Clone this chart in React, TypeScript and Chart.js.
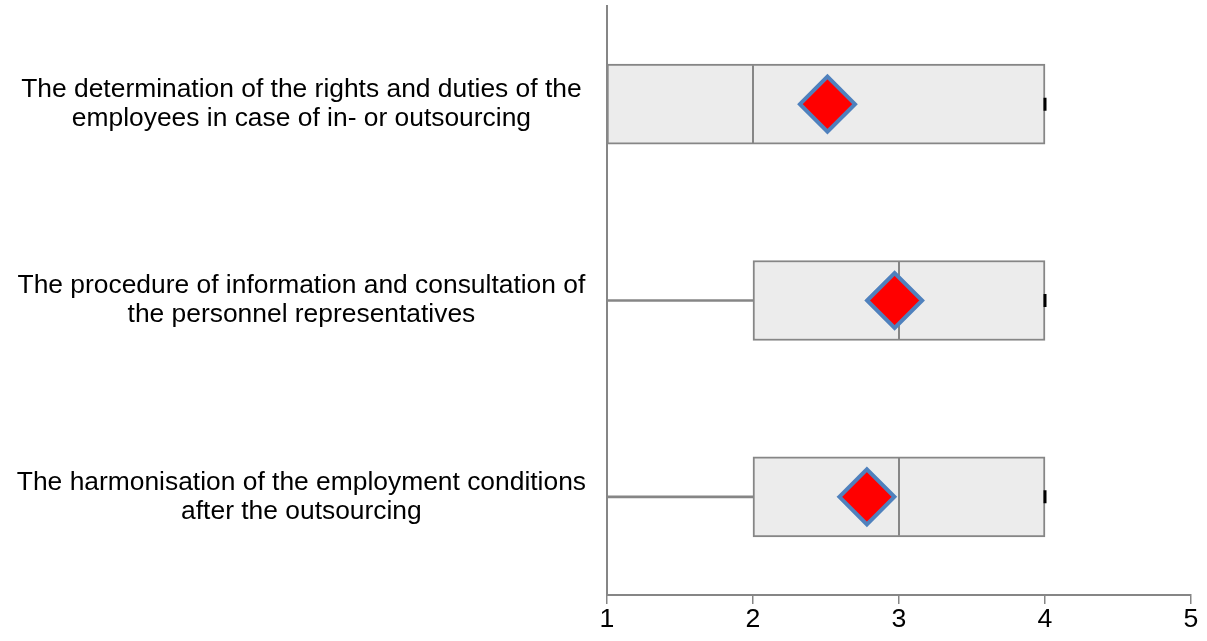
import React, { useEffect, useRef } from "react";
import { Chart, registerables } from "chart.js";

Chart.register(...registerables);

const categories: string[][] = [
  ["The determination of the rights and duties of the", "employees in case of in- or outsourcing"],
  ["The procedure of information and consultation of", "the personnel representatives"],
  ["The harmonisation of the employment conditions", "after the outsourcing"],
];
const minValues = [1, 1, 1];
const q1Values = [1, 2, 2];
const medianValues = [2, 3, 3];
const q3Values = [4, 4, 4];
const maxValues = [4, 4, 4];
const meanValues = [2.51, 2.97, 2.78];
const xTicks = [1, 2, 3, 4, 5];

const FONT = "Arial, 'Liberation Sans', sans-serif";
const GRAY = "#868686";

export default function App() {
  const ref = useRef<HTMLCanvasElement | null>(null);
  useEffect(() => {
    if (!ref.current) return;
    const labels = categories.map((c) => c.join(" "));
    const chart = new Chart(ref.current, {
      type: "bar",
      data: {
        labels,
        datasets: [
          {
            type: "line",
            label: "mean",
            data: meanValues,
            showLine: false,
            pointStyle: "rectRot",
            pointRadius: 27.5,
            pointHoverRadius: 27.5,
            pointBackgroundColor: "#ff0000",
            pointBorderColor: "#4f81bd",
            pointBorderWidth: 4,
            order: 1,
          } as any,
          {
            type: "line",
            label: "max",
            data: maxValues,
            showLine: false,
            pointStyle: "line",
            pointRotation: 90,
            pointRadius: 6.5,
            pointBorderColor: "#000000",
            pointBorderWidth: 3,
            order: 2,
          } as any,
          {
            type: "line",
            label: "median",
            data: medianValues,
            showLine: false,
            pointStyle: "line",
            pointRotation: 90,
            pointRadius: 39,
            pointBorderColor: GRAY,
            pointBorderWidth: 2,
            order: 3,
          } as any,
          {
            type: "bar",
            label: "box",
            data: q1Values.map((q, i) => [q, q3Values[i]]),
            backgroundColor: "#ececec",
            borderColor: GRAY,
            borderWidth: 2,
            borderSkipped: false,
            barThickness: 80,
            grouped: false,
            order: 4,
          } as any,
          {
            type: "bar",
            label: "whisker",
            data: minValues.map((m, i) => (m === q1Values[i] ? null : [m, q1Values[i]])),
            backgroundColor: GRAY,
            borderWidth: 0,
            barThickness: 2,
            grouped: false,
            order: 5,
          } as any,
        ],
      },
      options: {
        indexAxis: "y",
        responsive: false,
        animation: false,
        layout: { autoPadding: false, padding: { left: 0, top: 6, right: 16, bottom: 5 } },
        plugins: { legend: { display: false }, tooltip: { enabled: false } },
        scales: {
          x: {
            type: "linear",
            min: 1,
            max: 5,
            afterBuildTicks: (scale: any) => {
              scale.ticks = xTicks.map((v) => ({ value: v }));
            },
            grid: {
              drawOnChartArea: false,
              drawTicks: true,
              tickLength: 9,
              color: GRAY,
              lineWidth: 1.5,
            },
            border: { display: true, color: GRAY, width: 2 },
            ticks: {
              padding: 0,
              color: "#000000",
              font: { family: FONT, size: 26.67 },
              maxRotation: 0,
            },
          },
          y: {
            type: "category",
            offset: true,
            grid: { display: false, drawTicks: false },
            border: { display: true, color: GRAY, width: 2 },
            afterFit: (scale: any) => {
              scale.width = 607;
              scale.paddingTop = 0;
              scale.paddingBottom = 0;
            },
            ticks: {
              padding: 21,
              crossAlign: "center",
              color: "#000000",
              font: { family: FONT, size: 26.4, lineHeight: 1.1 },
              callback: (_v: any, i: number) => categories[i],
            },
          },
        },
      } as any,
    });
    return () => chart.destroy();
  }, []);
  return (
    <div style={{ position: "fixed", left: 0, top: 0, width: 1207, height: 641, background: "#fff" }}>
      <canvas ref={ref} width={1207} height={641} />
    </div>
  );
}
